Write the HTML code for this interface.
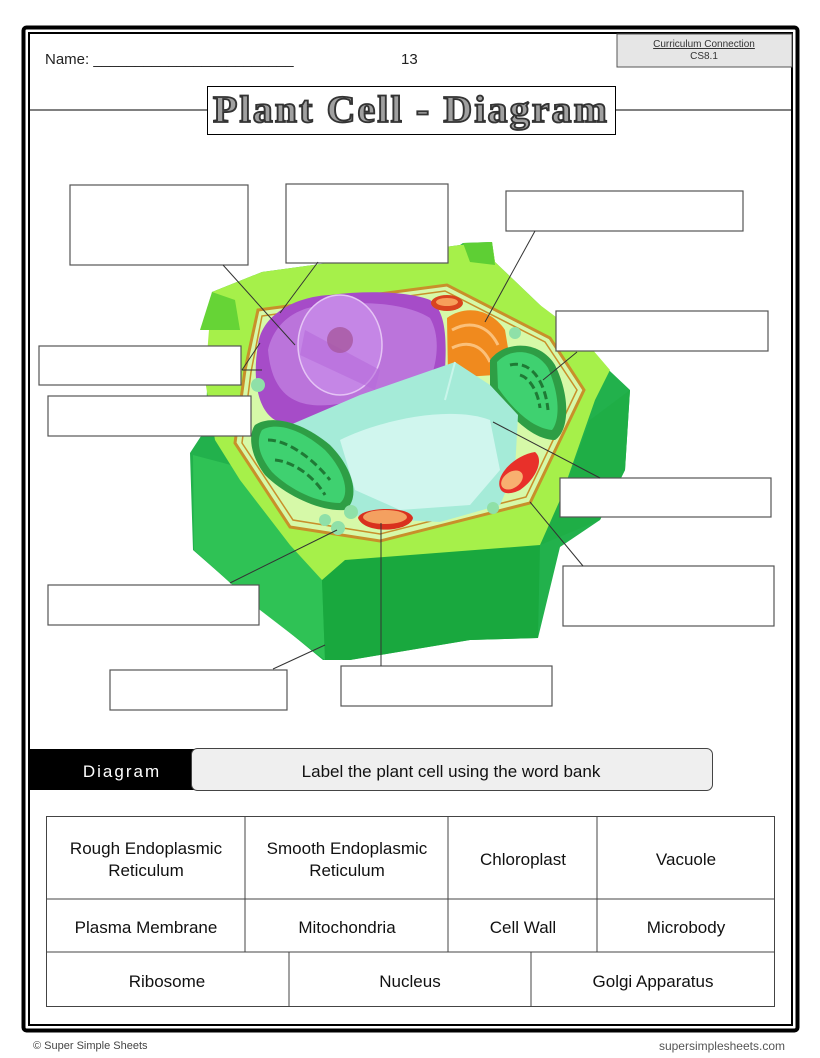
<!DOCTYPE html>
<html><head><meta charset="utf-8"><style>
html,body{margin:0;padding:0;background:#fff;}
body{width:820px;height:1058px;position:relative;overflow:hidden;font-family:"Liberation Sans",sans-serif;}
</style></head><body>
<svg width="820" height="1058" viewBox="0 0 820 1058" xmlns="http://www.w3.org/2000/svg" style="position:absolute;left:0;top:0">
<rect x="23.5" y="27.5" width="774" height="1003" fill="none" stroke="#000" stroke-width="4" rx="3"/>
<rect x="29" y="33" width="763" height="992" fill="none" stroke="#000" stroke-width="2"/>
<text x="45" y="64" font-size="15" fill="#222">Name: ________________________</text>
<text x="401" y="64" font-size="15" fill="#222">13</text>
<rect x="617" y="34" width="175" height="33" fill="#e6e6e6" stroke="#555" stroke-width="1"/>
<text x="704" y="47" font-size="10" fill="#333" text-anchor="middle" text-decoration="underline">Curriculum Connection</text>
<text x="704" y="59" font-size="10" fill="#333" text-anchor="middle">CS8.1</text>
<line x1="30" y1="110" x2="207" y2="110" stroke="#000" stroke-width="1"/>
<line x1="615" y1="110" x2="791" y2="110" stroke="#000" stroke-width="1"/>
<rect x="207.5" y="86.5" width="408" height="48" fill="#fff" stroke="#000" stroke-width="1"/>
<text x="411" y="122" font-size="38" font-weight="bold" font-family="Liberation Serif,serif" fill="#a0a0a0" stroke="#333" stroke-width="1.8" text-anchor="middle" letter-spacing="2" textLength="396" lengthAdjust="spacingAndGlyphs">Plant Cell - Diagram</text>

<polygon points="212,292 262,272 460,245 463,243 492,242 495,262 540,305 630,390 625,470 600,520 560,547 538,638 470,640 350,660 323,660 250,600 193,550 190,453 205,430" fill="#22b14c"/>
<polygon points="193,455 250,470 300,540 322,580 325,660 260,610 194,550" fill="#2fc255"/>
<polygon points="322,580 345,560 520,545 540,545 538,638 470,640 350,660 325,660" fill="#19a83e"/>
<polygon points="540,545 600,520 625,470 630,390 590,420 560,500" fill="#1fae46"/>
<polygon points="212,292 262,272 460,245 492,242 495,262 540,305 580,335 610,370 595,400 560,500 540,545 345,560 322,580 290,545 240,480 215,440 205,380" fill="#a6f04a"/>
<polygon points="212,292 235,300 240,330 200,330" fill="#66d436"/>
<polygon points="463,243 492,242 495,265 470,262" fill="#5ecf34"/>
<polygon points="258,310 447,285 550,338 584,390 530,503 380,541 290,527 235,443 245,370" fill="#d6f9a8" stroke="#c8902a" stroke-width="3"/>
<polygon points="262,316 445,291 545,342 577,390 526,497 380,534 293,520 242,443 251,372" fill="none" stroke="#c8902a" stroke-width="1.5"/>
<path d="M258,345 C262,312 300,296 330,295 C370,290 410,292 430,300 C445,310 447,335 445,370 C440,395 420,405 380,415 C340,425 300,428 275,420 C258,410 252,380 258,345 Z" fill="#a64cc8"/>
<path d="M268,350 C275,320 300,305 330,305 C370,300 410,305 430,318 C440,335 438,360 430,380 C410,395 370,400 330,405 C295,408 272,395 268,350 Z" fill="#c07ee0" opacity="0.8"/>
<ellipse cx="340" cy="345" rx="42" ry="50" fill="#c586e6" stroke="#e5c4f5" stroke-width="1.5"/>
<path d="M305,330 L380,370 L375,390 L300,355 Z" fill="#b56bdb" opacity="0.6"/>
<circle cx="340" cy="340" r="13" fill="#a6579f" opacity="0.8"/>
<path d="M447,318 C465,305 490,308 505,330 L510,360 L495,375 L448,378 Z" fill="#f08a1e"/>
<path d="M452,330 C470,320 488,325 498,345" fill="none" stroke="#fbc07a" stroke-width="3"/>
<path d="M452,348 C468,340 482,345 490,362" fill="none" stroke="#fbc07a" stroke-width="3"/>
<ellipse cx="447" cy="303" rx="16" ry="8" fill="#d9441e"/>
<ellipse cx="447" cy="302" rx="11" ry="4" fill="#f79e5a"/>
<path d="M490,360 C505,340 540,340 555,365 C570,395 570,430 555,440 C530,440 505,410 490,390 Z" fill="#2e9e45"/>
<path d="M497,362 C510,348 535,348 548,368 C560,395 560,420 552,430 C530,428 510,405 498,388 Z" fill="#3fd170"/>
<path d="M510,365 C530,360 545,380 548,410 M520,375 C530,378 538,392 540,408" fill="none" stroke="#1f7a35" stroke-width="3" stroke-dasharray="8 4"/>
<path d="M290,425 L360,395 L455,362 L490,385 L518,415 L515,470 L500,505 L440,522 L360,518 L330,490 L300,460 Z" fill="#a5ebd8"/>
<path d="M340,440 C380,420 450,405 490,420 L500,470 L470,505 L400,510 L355,490 Z" fill="#d0f6ee"/>
<line x1="455" y1="362" x2="445" y2="400" stroke="#c8f5ea" stroke-width="2"/>
<path d="M255,425 C270,415 300,420 330,445 C355,470 360,500 345,510 C320,512 285,495 265,475 C250,455 248,435 255,425 Z" fill="#2e9e45"/>
<path d="M262,430 C275,422 300,428 325,450 C346,472 350,495 340,503 C318,503 290,490 272,472 C258,455 256,440 262,430 Z" fill="#3fd170"/>
<path d="M268,440 C285,440 310,455 330,480 M275,460 C295,462 315,478 325,495" fill="none" stroke="#1f7a35" stroke-width="3" stroke-dasharray="8 4"/>
<path d="M358,518 C360,507 410,505 413,518 C410,532 365,535 358,518 Z" fill="#d9301e"/>
<ellipse cx="385" cy="517" rx="22" ry="7" fill="#f4a060"/>
<path d="M500,488 C495,475 515,455 535,452 C545,460 535,480 520,490 C510,495 502,494 500,488 Z" fill="#e8302a"/>
<ellipse cx="512" cy="480" rx="12" ry="8" fill="#f8b070" transform="rotate(-35 512 480)"/>
<circle cx="258" cy="385" r="7" fill="#8fe0a8"/>
<circle cx="515" cy="333" r="6" fill="#8fe0a8"/>
<circle cx="325" cy="520" r="6" fill="#8fe0a8"/>
<circle cx="338" cy="528" r="7" fill="#8fe0a8"/>
<circle cx="351" cy="512" r="7" fill="#8fe0a8"/>
<circle cx="493" cy="508" r="6" fill="#8fe0a8"/>

<g fill="#fff" stroke="#555" stroke-width="1.2">
<rect x="70" y="185" width="178" height="80"/>
<rect x="286" y="184" width="162" height="79"/>
<rect x="506" y="191" width="237" height="40"/>
<rect x="556" y="311" width="212" height="40"/>
<rect x="39" y="346" width="202" height="39"/>
<rect x="48" y="396" width="203" height="40"/>
<rect x="560" y="478" width="211" height="39"/>
<rect x="563" y="566" width="211" height="60"/>
<rect x="48" y="585" width="211" height="40"/>
<rect x="110" y="670" width="177" height="40"/>
<rect x="341" y="666" width="211" height="40"/>
</g>
<g stroke="#333" stroke-width="1" fill="none">
<line x1="223" y1="265" x2="295" y2="345"/>
<line x1="318" y1="262" x2="280" y2="313"/>
<line x1="535" y1="231" x2="485" y2="322"/>
<line x1="577" y1="352" x2="543" y2="380"/>
<line x1="242" y1="370" x2="260" y2="343"/>
<line x1="242" y1="370" x2="262" y2="370"/>
<line x1="493" y1="422" x2="600" y2="478"/>
<line x1="530" y1="502" x2="583" y2="566"/>
<line x1="230" y1="583" x2="337" y2="530"/>
<line x1="273" y1="669" x2="325" y2="645"/>
<line x1="381" y1="523" x2="381" y2="666"/>
</g>

<rect x="30" y="749" width="165" height="41" fill="#000"/>
<rect x="191.5" y="748.5" width="521" height="42" rx="6" fill="#efefef" stroke="#444" stroke-width="1"/>
<text x="122" y="777" font-size="17" fill="#fff" text-anchor="middle" letter-spacing="2">Diagram</text>
<text x="451" y="777" font-size="17" fill="#111" text-anchor="middle">Label the plant cell using the word bank</text>

<g stroke="#444" stroke-width="1" fill="none">
<rect x="46.5" y="816.5" width="728" height="190"/>
<line x1="46" y1="899" x2="774" y2="899"/>
<line x1="46" y1="952" x2="774" y2="952"/>
<line x1="245" y1="816" x2="245" y2="952"/>
<line x1="448" y1="816" x2="448" y2="952"/>
<line x1="597" y1="816" x2="597" y2="952"/>
<line x1="289" y1="952" x2="289" y2="1006"/>
<line x1="531" y1="952" x2="531" y2="1006"/>
</g>
<g font-size="17" fill="#111" text-anchor="middle">
<text x="146" y="854">Rough Endoplasmic</text>
<text x="146" y="876">Reticulum</text>
<text x="347" y="854">Smooth Endoplasmic</text>
<text x="347" y="876">Reticulum</text>
<text x="523" y="865">Chloroplast</text>
<text x="686" y="865">Vacuole</text>
<text x="146" y="933">Plasma Membrane</text>
<text x="347" y="933">Mitochondria</text>
<text x="523" y="933">Cell Wall</text>
<text x="686" y="933">Microbody</text>
<text x="167" y="987">Ribosome</text>
<text x="410" y="987">Nucleus</text>
<text x="653" y="987">Golgi Apparatus</text>
</g>
<text x="33" y="1049" font-size="11" fill="#444">© Super Simple Sheets</text>
<text x="785" y="1050" font-size="12" fill="#555" text-anchor="end">supersimplesheets.com</text>
</svg>
</body></html>
